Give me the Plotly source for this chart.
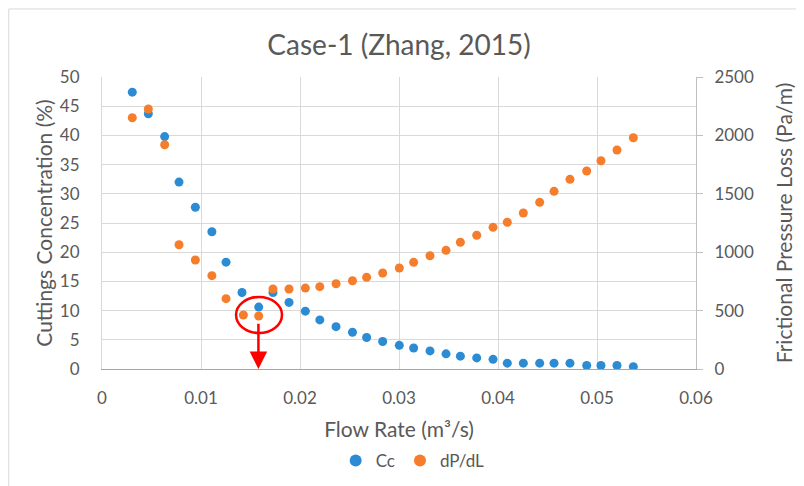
import plotly.graph_objects as go

flow_rate = [0.00306, 0.00468, 0.00633, 0.00778, 0.00943, 0.0111, 0.01253, 0.01414, 0.01583,
             0.01727, 0.01889, 0.02054, 0.0220, 0.02364, 0.0253, 0.02673, 0.02835, 0.03003,
             0.03148, 0.03313, 0.03475, 0.0362, 0.03785, 0.0395, 0.04094, 0.04256, 0.04421,
             0.04566, 0.04727, 0.04896, 0.0504, 0.05202, 0.05367]
cc = [47.4, 43.7, 39.8, 32.0, 27.7, 23.5, 18.3, 13.1, 10.6, 13.1, 11.4, 9.9, 8.4, 7.25, 6.3,
      5.4, 4.7, 4.05, 3.6, 3.1, 2.6, 2.2, 1.9, 1.65, 1.0, 1.0, 1.0, 1.0, 1.0, 0.6, 0.6, 0.6, 0.4]
dpdl_x = [0.00306, 0.00468, 0.00633, 0.00778, 0.00943, 0.0111, 0.01253, 0.01428, 0.01583,
          0.01727, 0.01889, 0.02054, 0.0220, 0.02364, 0.0253, 0.02673, 0.02835, 0.03003,
          0.03148, 0.03313, 0.03475, 0.0362, 0.03785, 0.0395, 0.04094, 0.04256, 0.04421,
          0.04566, 0.04727, 0.04896, 0.0504, 0.05202, 0.05367]
dpdl = [2151, 2226, 1920, 1064, 933, 799, 602, 462, 454, 685, 685, 693, 705, 730, 756, 785,
        822, 865, 913, 970, 1016, 1085, 1145, 1213, 1256, 1336, 1427, 1521, 1624, 1695, 1783,
        1875, 1980]

x_ticks = [0, 0.01, 0.02, 0.03, 0.04, 0.05, 0.06]
x_tick_labels = ["0", "0.01", "0.02", "0.03", "0.04", "0.05", "0.06"]

optimum_x = 0.0158
circle_x = [0.01354, 0.01818]
circle_y = [6.16, 12.33]
arrow_y = [8.0, 0]

FONT = "Lato"
GRAY = "#595959"
BLUE = "#2c8cd3"
ORANGE = "#f57d2b"

fig = go.Figure()
fig.add_trace(go.Scatter(x=flow_rate, y=cc, mode="markers", name="Cc",
                         marker=dict(color=BLUE, size=9), yaxis="y"))
fig.add_trace(go.Scatter(x=dpdl_x, y=dpdl, mode="markers", name="dP/dL",
                         marker=dict(color=ORANGE, size=9), yaxis="y2"))

fig.add_shape(type="circle", xref="x", yref="y", x0=circle_x[0], x1=circle_x[1],
              y0=circle_y[0], y1=circle_y[1], line=dict(color="#ff0000", width=2.5))
fig.add_annotation(x=optimum_x, y=arrow_y[1], ax=optimum_x, ay=arrow_y[0], xref="x", yref="y",
                   axref="x", ayref="y", showarrow=True, arrowhead=2, arrowsize=1.4,
                   arrowwidth=2.5, arrowcolor="#ff0000", text="")

# outer chart frame
fig.add_shape(type="rect", xref="paper", yref="paper", x0=-0.157, x1=1.2, y0=-0.45, y1=1.233,
              line=dict(color="#d9d9d9", width=1), layer="below")

fig.update_layout(
    width=804, height=486,
    margin=dict(l=94, r=116, t=69, b=125),
    paper_bgcolor="white", plot_bgcolor="white",
    font=dict(family=FONT, color=GRAY, size=17),
    title=dict(text="Case-1 (Zhang, 2015)", x=0.5, xref="paper", xanchor="center",
               y=1 - 37 / 486, yanchor="middle", pad=dict(t=0, b=0),
               font=dict(size=28, color=GRAY, family=FONT)),
    xaxis=dict(range=[0, 0.06], tickvals=x_ticks, ticktext=x_tick_labels, showgrid=True,
               gridcolor="#d9d9d9", showline=True, linecolor="#a6a6a6", zeroline=False,
               ticks="outside", ticklen=14, tickcolor="rgba(0,0,0,0)", automargin=False,
               tickfont=dict(size=17, color=GRAY),
               title=dict(text="Flow Rate (m³/s)", font=dict(size=21, color=GRAY), standoff=14)),
    yaxis=dict(range=[0, 50], dtick=5, showgrid=True, gridcolor="#d9d9d9", showline=True,
               linecolor="#d9d9d9", zeroline=False, ticks="outside", ticklen=18,
               tickcolor="rgba(0,0,0,0)", automargin=False,
               tickfont=dict(size=17, color=GRAY),
               title=dict(text="Cuttings Concentration (%)", font=dict(size=21, color=GRAY),
                          standoff=1)),
    yaxis2=dict(range=[0, 2500], dtick=500, overlaying="y", side="right", showgrid=False,
                showline=True, linecolor="#bfbfbf", zeroline=False, ticks="outside",
                ticklen=6, tickcolor="#bfbfbf", automargin=False, ticklabelstandoff=8,
                tickfont=dict(size=17, color=GRAY),
                title=dict(text="Frictional Pressure Loss (Pa/m)",
                           font=dict(size=21, color=GRAY), standoff=24)),
    legend=dict(orientation="h", x=0.523, xanchor="center", y=-0.315, yanchor="middle",
                font=dict(size=17, color=GRAY), itemsizing="constant",
                bgcolor="rgba(0,0,0,0)"),
    showlegend=True,
)

fig.write_html("out.html")
